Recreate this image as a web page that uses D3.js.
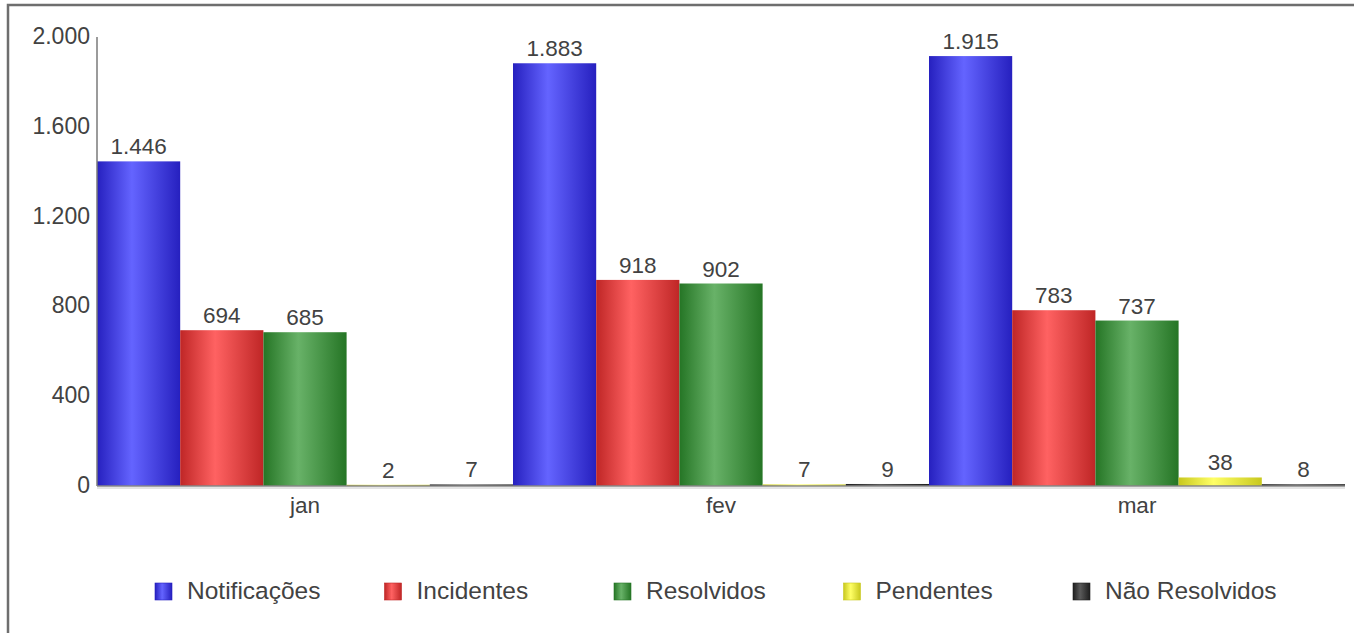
<!DOCTYPE html>
<html>
<head>
<meta charset="utf-8">
<script src="https://cdn.jsdelivr.net/npm/d3@7"></script>
<style>
  html, body { margin: 0; padding: 0; background: #fff; }
  svg { display: block; font-family: "Liberation Sans", Arial, sans-serif; }
</style>
</head>
<body>
<svg id="chart" width="1354" height="633"></svg>
<script>
// ---- data ----
const months = ["jan", "fev", "mar"];
const seriesNames = ["Notificações", "Incidentes", "Resolvidos", "Pendentes", "Não Resolvidos"];
const notificacoes = [1446, 1883, 1915];
const incidentes = [694, 918, 783];
const resolvidos = [685, 902, 737];
const pendentes = [2, 7, 38];
const naoResolvidos = [7, 9, 8];
const yTicks = [0, 400, 800, 1200, 1600, 2000];

const seriesValues = [notificacoes, incidentes, resolvidos, pendentes, naoResolvidos];
// gradient stops: edge, highlight
const seriesColors = [
  ["#2620bf", "#6464ff"],
  ["#bf2626", "#ff6262"],
  ["#257525", "#68b268"],
  ["#c8c81e", "#ffff66"],
  ["#1e1e1e", "#5a5a5a"]
];

const svg = d3.select("#chart");
const defs = svg.append("defs");

seriesColors.forEach((c, i) => {
  const g = defs.append("linearGradient").attr("id", "grad" + i)
    .attr("x1", "0%").attr("x2", "100%").attr("y1", "0%").attr("y2", "0%");
  g.append("stop").attr("offset", "0%").attr("stop-color", c[0]);
  g.append("stop").attr("offset", "42%").attr("stop-color", c[1]);
  g.append("stop").attr("offset", "100%").attr("stop-color", c[0]);
});

// outer frame
svg.append("path")
  .attr("d", "M8,633 L8,5 L1354,5")
  .attr("fill", "none").attr("stroke", "#6e6e6e").attr("stroke-width", 2.5);

const plotLeft = 97, plotRight = 1345, plotTop = 37, plotBottom = 486;
const textColor = "#424242";

const x0 = d3.scaleBand().domain(months).range([plotLeft, plotRight]).paddingInner(0).paddingOuter(0);
const x1 = d3.scaleBand().domain(seriesNames).range([0, x0.bandwidth()]).padding(0);
const y = d3.scaleLinear().domain([0, 2000]).range([plotBottom, plotTop]);

// bars
const groups = svg.append("g").selectAll("g")
  .data(months).join("g")
  .attr("transform", d => `translate(${x0(d)},0)`);

groups.selectAll("rect")
  .data((m, mi) => seriesNames.map((s, si) => ({ s, si, v: seriesValues[si][mi] })))
  .join("rect")
  .attr("x", d => x1(d.s))
  .attr("width", x1.bandwidth())
  .attr("y", d => Math.min(y(d.v), y(0) - 1.2))
  .attr("height", d => Math.max(y(0) - y(d.v), 1.2))
  .attr("fill", d => `url(#grad${d.si})`);

// value labels
groups.selectAll("text.val")
  .data((m, mi) => seriesNames.map((s, si) => ({ s, si, v: seriesValues[si][mi] })))
  .join("text")
  .attr("class", "val")
  .attr("x", d => x1(d.s) + x1.bandwidth() / 2)
  .attr("y", d => Math.min(y(d.v), y(0) - 1.2) - 7)
  .attr("text-anchor", "middle")
  .attr("font-size", 22.5)
  .attr("fill", textColor)
  .text(d => d3.format(",")(d.v).replace(/,/g, "."));

// y axis line
svg.append("line")
  .attr("x1", plotLeft).attr("x2", plotLeft).attr("y1", y(2000)).attr("y2", y(0))
  .attr("stroke", "#7a7a7a").attr("stroke-width", 1.5);

// y tick labels
svg.append("g").selectAll("text")
  .data(yTicks).join("text")
  .attr("x", 90)
  .attr("y", d => y(d) + 7)
  .attr("text-anchor", "end")
  .attr("font-size", 23)
  .attr("fill", textColor)
  .text(d => d3.format(",")(d).replace(/,/g, "."));

// baseline with subtle shadow
svg.append("line")
  .attr("x1", plotLeft).attr("x2", plotRight).attr("y1", y(0) + 2).attr("y2", y(0) + 2)
  .attr("stroke", "#e4e4e4").attr("stroke-width", 2);
svg.append("line")
  .attr("x1", plotLeft).attr("x2", plotRight).attr("y1", y(0)).attr("y2", y(0))
  .attr("stroke", "#858585").attr("stroke-width", 1.5);

// category labels
svg.append("g").selectAll("text")
  .data(months).join("text")
  .attr("x", d => x0(d) + x0.bandwidth() / 2)
  .attr("y", 513)
  .attr("text-anchor", "middle")
  .attr("font-size", 22.5)
  .attr("fill", textColor)
  .text(d => d);

// legend
const legendX = d3.scaleLinear().domain([0, 4]).range([155, 1073]);
const leg = svg.append("g").selectAll("g")
  .data(seriesNames).join("g")
  .attr("transform", (d, i) => `translate(${legendX(i)},583)`);
leg.append("rect")
  .attr("width", 17).attr("height", 17)
  .attr("fill", (d, i) => `url(#grad${i})`)
  .attr("stroke", (d, i) => seriesColors[i][0]).attr("stroke-width", 0.6);
leg.append("text")
  .attr("x", 32).attr("y", 16)
  .attr("font-size", 24.5)
  .attr("fill", textColor)
  .text(d => d);
</script>
</body>
</html>
